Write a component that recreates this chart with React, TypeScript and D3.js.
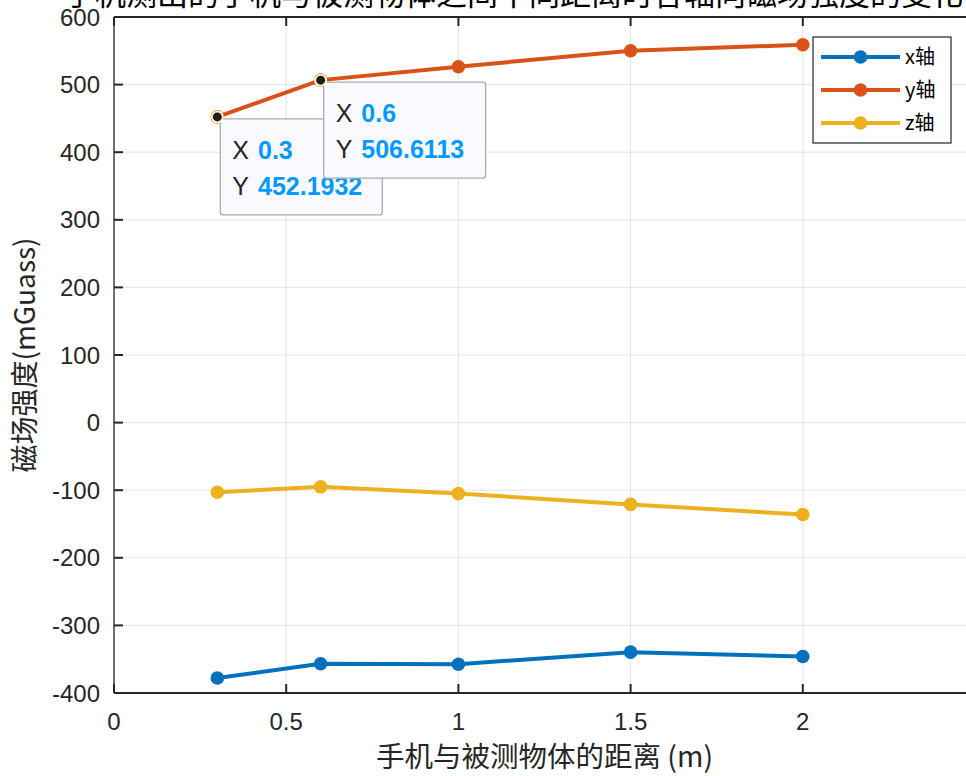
import React from "react";
import * as d3 from "d3";

const distances = [0.3, 0.6, 1, 1.5, 2];
const xAxisValues = [-377.8, -356.7, -357.4, -339.6, -346.0];
const yAxisValues = [452.1932, 506.6113, 526.5, 550.0, 559.0];
const zAxisValues = [-103.0, -95.0, -105.0, -121.0, -136.0];
const seriesNames = ["x轴", "y轴", "z轴"];
const seriesColors = ["#0072BD", "#D95319", "#EDB120"];
const xTicks = [0, 0.5, 1, 1.5, 2, 2.5];
const xTickLabels = ["0", "0.5", "1", "1.5", "2", ""];
const yTicks = [-400, -300, -200, -100, 0, 100, 200, 300, 400, 500, 600];
const titleText = "手机测出的手机与被测物体之间不同距离时各轴向磁场强度的变化情况";
const xLabel = "手机与被测物体的距离 (m)";
const yLabel = "磁场强度(mGuass)";
const tips = [
  { x: 0.3, y: 452.1932, label: "0.3", value: "452.1932" },
  { x: 0.6, y: 506.6113, label: "0.6", value: "506.6113" },
];

const W = 966;
const H = 776;
const L = 114;
const R = 975;
const T = 17;
const B = 693;

const sx = d3.scaleLinear().domain([0, 2.5]).range([L, R]);
const sy = d3.scaleLinear().domain([-400, 600]).range([B, T]);

const FONT = "'Liberation Sans', Arial, Helvetica, sans-serif";
const CJK = "'Noto Sans CJK SC', 'Liberation Sans', sans-serif";

export default function App() {
  const allSeries = [xAxisValues, yAxisValues, zAxisValues];
  const line = d3
    .line<[number, number]>()
    .x((d) => sx(d[0]))
    .y((d) => sy(d[1]));

  return (
    <div style={{ position: "fixed", left: 0, top: 0, width: W, height: H, overflow: "hidden", background: "#fff" }}>
      <svg width={W} height={H} style={{ display: "block" }}>
        <rect x={0} y={0} width={W} height={H} fill="#fff" />
        {/* grid */}
        {xTicks.map((t) => (
          <line key={"gx" + t} x1={sx(t)} x2={sx(t)} y1={T} y2={B} stroke="#e3e3e3" strokeWidth={1} />
        ))}
        {yTicks.map((t) => (
          <line key={"gy" + t} x1={L} x2={R} y1={sy(t)} y2={sy(t)} stroke="#e3e3e3" strokeWidth={1} />
        ))}
        {/* box */}
        <line x1={L} x2={R} y1={T} y2={T} stroke="#262626" strokeWidth={2} />
        <line x1={L} x2={R} y1={B} y2={B} stroke="#262626" strokeWidth={2} />
        <line x1={L} x2={L} y1={T} y2={B} stroke="#707070" strokeWidth={2} />
        <line x1={R} x2={R} y1={T} y2={B} stroke="#262626" strokeWidth={2} />
        {/* ticks */}
        {xTicks.map((t, i) => (
          <g key={"tx" + t}>
            <line x1={sx(t)} x2={sx(t)} y1={B} y2={B - 9} stroke="#262626" strokeWidth={2} />
            <line x1={sx(t)} x2={sx(t)} y1={T} y2={T + 9} stroke="#262626" strokeWidth={2} />
            {xTickLabels[i] && (
              <text x={sx(t)} y={730} textAnchor="middle" fontFamily={FONT} fontSize={24} fill="#262626">
                {xTickLabels[i]}
              </text>
            )}
          </g>
        ))}
        {yTicks.map((t) => (
          <g key={"ty" + t}>
            <line x1={L} x2={L + 9} y1={sy(t)} y2={sy(t)} stroke="#262626" strokeWidth={2} />
            <line x1={R} x2={R - 9} y1={sy(t)} y2={sy(t)} stroke="#262626" strokeWidth={2} />
            <text x={100} y={sy(t) + 8.5} textAnchor="end" fontFamily={FONT} fontSize={24} fill="#262626">
              {String(t)}
            </text>
          </g>
        ))}
        {/* series */}
        {allSeries.map((vals, i) => {
          const pts: [number, number][] = distances.map((d, j) => [d, vals[j]]);
          return (
            <g key={"s" + i}>
              <path d={line(pts) || ""} fill="none" stroke={seriesColors[i]} strokeWidth={4} strokeLinejoin="round" />
              {pts.map((p, j) => (
                <circle key={j} cx={sx(p[0])} cy={sy(p[1])} r={6.8} fill={seriesColors[i]} />
              ))}
            </g>
          );
        })}
        {/* legend */}
        <rect x={813} y={37} width={138} height={106} fill="#fff" stroke="#262626" strokeWidth={1.2} />
        {seriesNames.map((n, i) => {
          const ly = 57 + i * 33;
          return (
            <g key={"lg" + i}>
              <line x1={821} x2={900} y1={ly} y2={ly} stroke={seriesColors[i]} strokeWidth={4} />
              <circle cx={860.5} cy={ly} r={6.8} fill={seriesColors[i]} />
              <text x={905} y={ly + 7} fontFamily={CJK} fontSize={20} fill="#000">
                {n}
              </text>
            </g>
          );
        })}
        {/* data tips */}
        {tips.map((tp, i) => {
          const px = sx(tp.x);
          const py = sy(tp.y);
          const bx = px + 3;
          const by = py + 2;
          return (
            <g key={"tip" + i}>
              <rect x={bx} y={by} width={162} height={96} rx={3} fill="#F9F9FE" stroke="#ABABAB" strokeWidth={1.3} />
              <text x={bx + 12} y={by + 40} fontFamily={FONT} fontSize={25} fill="#262626">
                X
                <tspan dx={9} fill="#0099FF" fontWeight="bold">{tp.label}</tspan>
              </text>
              <text x={bx + 12} y={by + 76} fontFamily={FONT} fontSize={25} fill="#262626">
                Y
                <tspan dx={9} fill="#0099FF" fontWeight="bold">{tp.value}</tspan>
              </text>
              <circle cx={px} cy={py} r={5.5} fill="#1f1f1f" stroke="#FFF6C8" strokeWidth={2} />
            </g>
          );
        })}
        {/* labels */}
        <text x={(L + R) / 2} y={767} textAnchor="middle" fontFamily={CJK} fontSize={28.5} fill="#262626">
          {xLabel}
        </text>
        <text
          transform={`translate(35, ${(T + B) / 2}) rotate(-90)`}
          textAnchor="middle"
          fontFamily={CJK}
          fontSize={28}
          fill="#262626"
        >
          {yLabel}
        </text>
        <text x={(L + R) / 2} y={5} textAnchor="middle" fontFamily={CJK} fontSize={31} fill="#000">
          {titleText}
        </text>
      </svg>
    </div>
  );
}
